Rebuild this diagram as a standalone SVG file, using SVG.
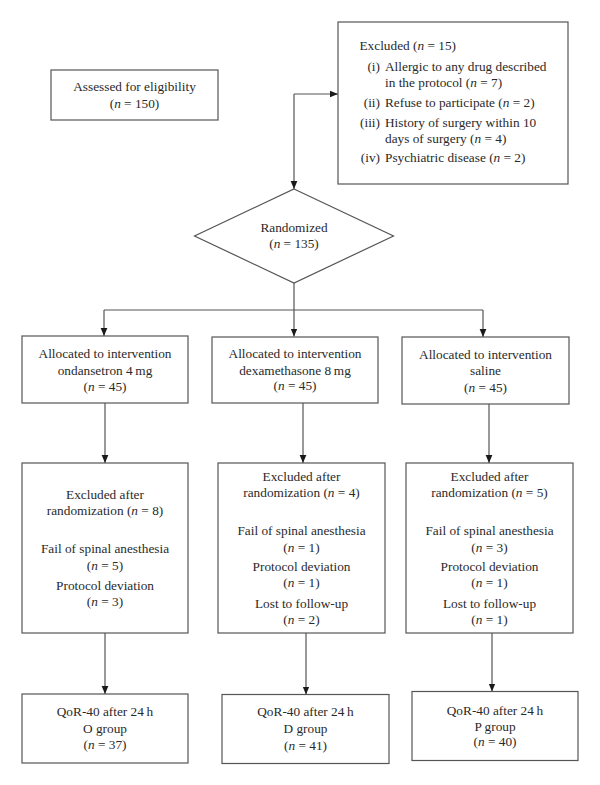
<svg xmlns="http://www.w3.org/2000/svg" width="600" height="785" viewBox="0 0 600 785">
<style>
  .box { fill: #ffffff; stroke: #555555; stroke-width: 1.2; }
  .t { font-family: "Liberation Serif", "Times New Roman", serif; font-size: 13.3px; fill: #2a2a2a; }
  .c { text-anchor: middle; }
  .e { text-anchor: end; }
  .i { font-style: italic; }
  .conn { fill: none; stroke: #555555; stroke-width: 1.2; }
</style>
<defs>
  <marker id="arr" viewBox="0 0 10 10" refX="10" refY="5" markerWidth="8" markerHeight="8" markerUnits="userSpaceOnUse" orient="auto">
    <path d="M0,0.8 L10,5 L0,9.2 Z" fill="#1a1a1a"/>
  </marker>
</defs>
<rect width="600" height="785" fill="#ffffff"/>

<g id="connectors">
  <path class="conn" d="M294,94 L294,189" marker-end="url(#arr)"/>
  <path class="conn" d="M294,94 L338,94" marker-end="url(#arr)"/>
  <path class="conn" d="M294,283 L294,336.5" marker-end="url(#arr)"/>
  <path class="conn" d="M104,310 L483,310"/>
  <path class="conn" d="M104,310 L104,336" marker-end="url(#arr)"/>
  <path class="conn" d="M483,310 L483,337" marker-end="url(#arr)"/>
  <path class="conn" d="M105,403 L105,463" marker-end="url(#arr)"/>
  <path class="conn" d="M303,403 L303,463" marker-end="url(#arr)"/>
  <path class="conn" d="M489,404 L489,463" marker-end="url(#arr)"/>
  <path class="conn" d="M105,633 L105,694" marker-end="url(#arr)"/>
  <path class="conn" d="M306,633 L306,694.5" marker-end="url(#arr)"/>
  <path class="conn" d="M492,633 L492,691.5" marker-end="url(#arr)"/>
</g>

<g id="assessed">
  <rect class="box" x="51" y="70" width="167" height="50"/>
  <text class="t c" x="134.5" y="91">Assessed for eligibility</text>
  <text class="t c" x="134.5" y="107.5">(<tspan class="i">n</tspan> = 150)</text>
</g>

<g id="excluded">
  <rect class="box" x="338" y="22" width="230" height="162"/>
  <text class="t" x="359.5" y="50">Excluded (<tspan class="i">n</tspan> = 15)</text>
  <text class="t e" x="380" y="71">(i)</text>
  <text class="t" x="385" y="71">Allergic to any drug described</text>
  <text class="t" x="385" y="87">in the protocol (<tspan class="i">n</tspan> = 7)</text>
  <text class="t e" x="380" y="107">(ii)</text>
  <text class="t" x="385" y="107">Refuse to participate (<tspan class="i">n</tspan> = 2)</text>
  <text class="t e" x="380" y="127">(iii)</text>
  <text class="t" x="385" y="127">History of surgery within 10</text>
  <text class="t" x="385" y="143">days of surgery (<tspan class="i">n</tspan> = 4)</text>
  <text class="t e" x="380" y="162">(iv)</text>
  <text class="t" x="385" y="162">Psychiatric disease (<tspan class="i">n</tspan> = 2)</text>
</g>

<g id="randomized">
  <polygon class="box" points="294,189 393.5,236 294,283 194.5,236"/>
  <text class="t c" x="294" y="232">Randomized</text>
  <text class="t c" x="294" y="248">(<tspan class="i">n</tspan> = 135)</text>
</g>

<g id="alloc-o">
  <rect class="box" x="22" y="336" width="166" height="67"/>
  <text class="t c" x="105" y="358">Allocated to intervention</text>
  <text class="t c" x="105" y="374.5">ondansetron 4&#8201;mg</text>
  <text class="t c" x="105" y="390.5">(<tspan class="i">n</tspan> = 45)</text>
</g>

<g id="alloc-d">
  <rect class="box" x="212" y="337" width="166" height="66"/>
  <text class="t c" x="295" y="358">Allocated to intervention</text>
  <text class="t c" x="295" y="374.5">dexamethasone 8&#8201;mg</text>
  <text class="t c" x="295" y="390">(<tspan class="i">n</tspan> = 45)</text>
</g>

<g id="alloc-p">
  <rect class="box" x="402" y="337" width="167" height="67"/>
  <text class="t c" x="485.5" y="358.5">Allocated to intervention</text>
  <text class="t c" x="485.5" y="375">saline</text>
  <text class="t c" x="485.5" y="391.5">(<tspan class="i">n</tspan> = 45)</text>
</g>

<g id="excl-o">
  <rect class="box" x="22" y="463" width="166" height="170"/>
  <text class="t c" x="105" y="498.5">Excluded after</text>
  <text class="t c" x="105" y="515">randomization (<tspan class="i">n</tspan> = 8)</text>
  <text class="t c" x="105" y="553">Fail of spinal anesthesia</text>
  <text class="t c" x="105" y="569.5">(<tspan class="i">n</tspan> = 5)</text>
  <text class="t c" x="105" y="589.5">Protocol deviation</text>
  <text class="t c" x="105" y="605.5">(<tspan class="i">n</tspan> = 3)</text>
</g>

<g id="excl-d">
  <rect class="box" x="218" y="463" width="167" height="170"/>
  <text class="t c" x="301.5" y="480.5">Excluded after</text>
  <text class="t c" x="301.5" y="497">randomization (<tspan class="i">n</tspan> = 4)</text>
  <text class="t c" x="301.5" y="534.5">Fail of spinal anesthesia</text>
  <text class="t c" x="301.5" y="552">(<tspan class="i">n</tspan> = 1)</text>
  <text class="t c" x="301.5" y="571">Protocol deviation</text>
  <text class="t c" x="301.5" y="587">(<tspan class="i">n</tspan> = 1)</text>
  <text class="t c" x="301.5" y="608">Lost to follow-up</text>
  <text class="t c" x="301.5" y="624">(<tspan class="i">n</tspan> = 2)</text>
</g>

<g id="excl-p">
  <rect class="box" x="406" y="463" width="167" height="170"/>
  <text class="t c" x="489.5" y="480.5">Excluded after</text>
  <text class="t c" x="489.5" y="497">randomization (<tspan class="i">n</tspan> = 5)</text>
  <text class="t c" x="489.5" y="534.5">Fail of spinal anesthesia</text>
  <text class="t c" x="489.5" y="552">(<tspan class="i">n</tspan> = 3)</text>
  <text class="t c" x="489.5" y="571">Protocol deviation</text>
  <text class="t c" x="489.5" y="587">(<tspan class="i">n</tspan> = 1)</text>
  <text class="t c" x="489.5" y="608">Lost to follow-up</text>
  <text class="t c" x="489.5" y="624">(<tspan class="i">n</tspan> = 1)</text>
</g>

<g id="final-o">
  <rect class="box" x="22" y="694" width="166" height="69"/>
  <text class="t c" x="105" y="716">QoR-40 after 24&#8201;h</text>
  <text class="t c" x="105" y="733">O group</text>
  <text class="t c" x="105" y="749">(<tspan class="i">n</tspan> = 37)</text>
</g>

<g id="final-d">
  <rect class="box" x="222" y="694.5" width="167" height="69"/>
  <text class="t c" x="305.5" y="716">QoR-40 after 24&#8201;h</text>
  <text class="t c" x="305.5" y="733">D group</text>
  <text class="t c" x="305.5" y="749.5">(<tspan class="i">n</tspan> = 41)</text>
</g>

<g id="final-p">
  <rect class="box" x="412" y="691.5" width="166" height="69"/>
  <text class="t c" x="495" y="714.5">QoR-40 after 24&#8201;h</text>
  <text class="t c" x="495" y="731">P group</text>
  <text class="t c" x="495" y="746">(<tspan class="i">n</tspan> = 40)</text>
</g>
</svg>
